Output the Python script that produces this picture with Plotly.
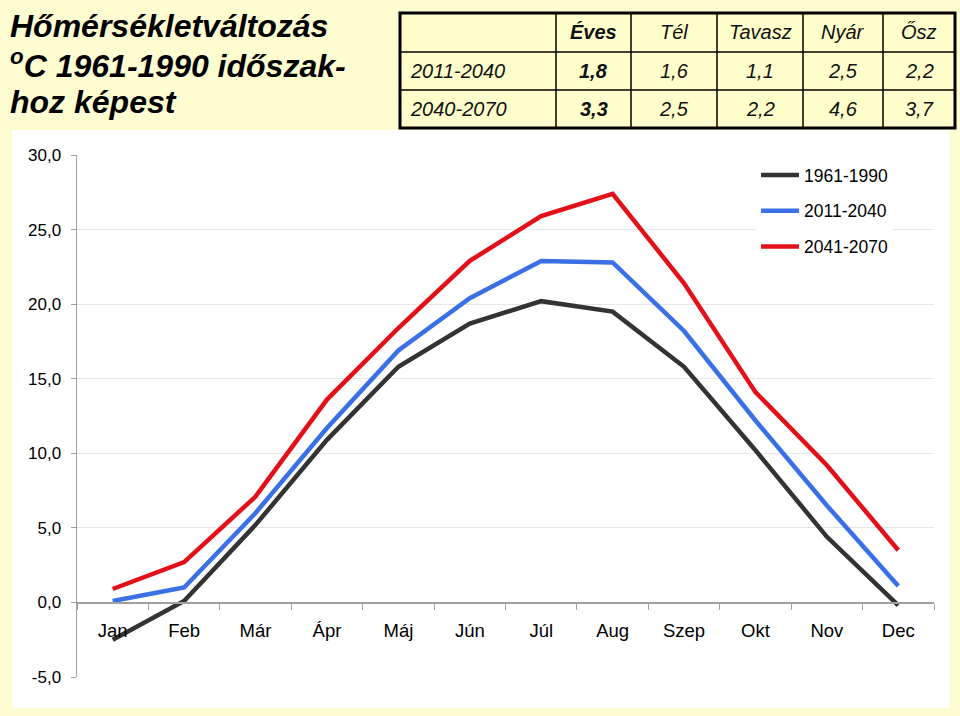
import plotly.graph_objects as go

months = ["Jan", "Feb", "Már", "Ápr", "Máj", "Jún", "Júl", "Aug", "Szep", "Okt", "Nov", "Dec"]
base_1961_1990 = [-2.5, 0.1, 5.2, 10.9, 15.8, 18.7, 20.2, 19.5, 15.8, 10.2, 4.4, -0.2]
proj_2011_2040 = [0.1, 1.0, 6.0, 11.7, 16.9, 20.4, 22.9, 22.8, 18.2, 12.2, 6.5, 1.1]
proj_2041_2070 = [0.9, 2.7, 7.1, 13.6, 18.4, 22.9, 25.9, 27.4, 21.4, 14.1, 9.2, 3.5]
series_names = ["1961-1990", "2011-2040", "2041-2070"]
series_colors = ["#333333", "#3b6fe6", "#e3101a"]

y_ticks = [-5, 0, 5, 10, 15, 20, 25, 30]
y_ticklabels = ["-5,0", "0,0", "5,0", "10,0", "15,0", "20,0", "25,0", "30,0"]

table_header = ["", "Éves", "Tél", "Tavasz", "Nyár", "Ősz"]
table_rows = ["2011-2040", "2040-2070"]
table_values = [[1.8, 1.6, 1.1, 2.5, 2.2],
                [3.3, 2.5, 2.2, 4.6, 3.7]]

title_lines = ["Hőmérsékletváltozás", "<sup>o</sup>C 1961-1990 időszak-", "hoz képest"]

W, H = 960, 716
ML, MR, MT, MB = 77, 26, 155, 39
PW, PH = W - ML - MR, H - MT - MB

def px(x):
    return (x - ML) / PW

def py(y):
    return (H - MB - y) / PH

fig = go.Figure()
for name, vals, col in zip(series_names, [base_1961_1990, proj_2011_2040, proj_2041_2070], series_colors):
    fig.add_trace(go.Scatter(x=months, y=vals, mode="lines", name=name,
                             legendgroup=name, hoverinfo="skip",
                             line=dict(color=col, width=4.5)))

shapes = []
annotations = []
# white chart panel
shapes.append(dict(type="rect", xref="paper", yref="paper", x0=px(12), x1=px(950), y0=py(708), y1=py(130),
                   fillcolor="white", line=dict(width=0), layer="below"))

# title
for i, t in enumerate(title_lines):
    annotations.append(dict(xref="paper", yref="paper", x=px(8), y=py(26 + 38 * i), xanchor="left", yanchor="middle",
                            text="<b><i>" + t + "</i></b>", showarrow=False,
                            font=dict(family="Arial, Liberation Sans", size=32, color="black")))

# table
col_edges = [400, 556, 631, 717, 803, 883, 955]
row_edges = [13, 52, 90, 128]
shapes.append(dict(type="rect", xref="paper", yref="paper", x0=px(col_edges[0]), x1=px(col_edges[-1]),
                   y0=py(row_edges[-1]), y1=py(row_edges[0]), fillcolor="#ffffcc",
                   line=dict(color="black", width=3), layer="below"))
for xe in col_edges[1:-1]:
    shapes.append(dict(type="line", xref="paper", yref="paper", x0=px(xe), x1=px(xe),
                       y0=py(row_edges[-1]), y1=py(row_edges[0]), line=dict(color="black", width=1.5)))
for ye in row_edges[1:-1]:
    shapes.append(dict(type="line", xref="paper", yref="paper", x0=px(col_edges[0]), x1=px(col_edges[-1]),
                       y0=py(ye), y1=py(ye), line=dict(color="black", width=1.5)))

tfont = dict(family="Arial, Liberation Sans", size=20, color="#111111")
for j, h in enumerate(table_header):
    if not h:
        continue
    cx = (col_edges[j] + col_edges[j + 1]) / 2
    cy = (row_edges[0] + row_edges[1]) / 2
    txt = "<b><i>" + h + "</i></b>" if j == 1 else "<i>" + h + "</i>"
    annotations.append(dict(xref="paper", yref="paper", x=px(cx), y=py(cy), text=txt, showarrow=False,
                            xanchor="center", yanchor="middle", font=tfont))
for r, rl in enumerate(table_rows):
    cy = (row_edges[r + 1] + row_edges[r + 2]) / 2
    annotations.append(dict(xref="paper", yref="paper", x=px(col_edges[0] + 8), y=py(cy), text="<i>" + rl + "</i>",
                            showarrow=False, xanchor="left", yanchor="middle", font=tfont))
    for c, v in enumerate(table_values[r]):
        cx = (col_edges[c + 1] + col_edges[c + 2]) / 2
        s = f"{v:.1f}".replace(".", ",")
        txt = "<b><i>" + s + "</i></b>" if c == 0 else "<i>" + s + "</i>"
        annotations.append(dict(xref="paper", yref="paper", x=px(cx), y=py(cy), text=txt, showarrow=False,
                                xanchor="center", yanchor="middle", font=tfont))

fig.update_layout(
    width=W, height=H,
    margin=dict(l=ML, r=MR, t=MT, b=MB, pad=0),
    paper_bgcolor="#fefdd2",
    plot_bgcolor="white",
    separators=", ",
    font=dict(family="Arial, Liberation Sans", color="black"),
    shapes=shapes,
    annotations=annotations,
    showlegend=True,
    hovermode=False,
    legend=dict(x=px(756), y=py(157), xanchor="left", yanchor="top",
                bgcolor="white", borderwidth=0,
                font=dict(size=17.5, color="black"),
                tracegroupgap=10, itemwidth=38),
    xaxis=dict(
        type="category", range=[-0.5, 11.5],
        anchor="free", position=5 / 35, automargin=False,
        showline=True, linecolor="#a0a0a0", linewidth=1.5,
        ticks="outside", ticklen=6, tickcolor="#a0a0a0", tickson="boundaries",
        showgrid=False, zeroline=False,
        tickfont=dict(size=18.5, color="black"),
        ticklabelstandoff=11,
    ),
    yaxis=dict(
        range=[-5, 30], tickvals=y_ticks, ticktext=y_ticklabels, automargin=False,
        showline=True, linecolor="#a0a0a0", linewidth=1.5,
        ticks="outside", ticklen=5, tickcolor="#a0a0a0",
        showgrid=True, gridcolor="#e6e6e6", gridwidth=1,
        zeroline=False,
        tickfont=dict(size=17, color="black"),
        ticklabelstandoff=6,
    ),
)

fig.write_html("out.html",
               config={"displayModeBar": False, "staticPlot": True},
               post_script="document.body.style.margin='0';document.body.style.overflow='hidden';"
                           "document.body.style.background='#fefdd2';")
